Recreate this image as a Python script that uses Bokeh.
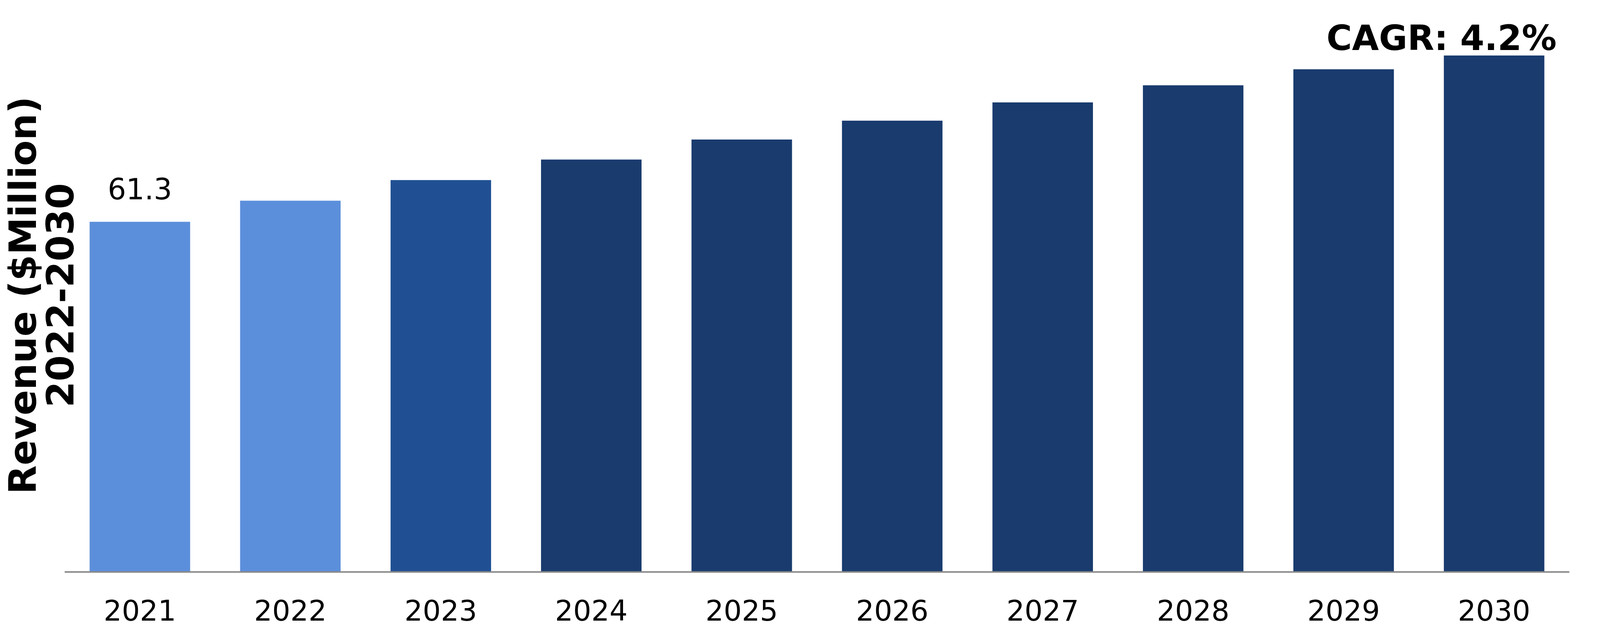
from bokeh.plotting import figure
from bokeh.models import ColumnDataSource, FixedTicker, Range1d
from bokeh.core.properties import value
from bokeh.embed import file_html
from bokeh.resources import INLINE

years = ["2021", "2022", "2023", "2024", "2025", "2026", "2027", "2028", "2029", "2030"]
revenue = [61.3, 65.0, 68.6, 72.2, 75.7, 79.0, 82.2, 85.2, 88.0, 90.4]
bar_colors = ["#5C8FDB", "#5C8FDB", "#205093", "#193B6E", "#193B6E",
              "#193B6E", "#193B6E", "#193B6E", "#193B6E", "#193B6E"]
label_years = ["2021"]
label_values = [61.3]
label_texts = ["61.3"]
cagr_years = ["2030"]
cagr_values = [90.4]
cagr_texts = ["CAGR: 4.2%"]
y_title = "Revenue ($Million)\n2022-2030"

FONT = "DejaVu Sans"

W, H = 4080, 1619
p = figure(x_range=years, width=W, height=H, output_backend="svg",
           toolbar_location=None, min_border_left=159, min_border_right=63,
           min_border_top=47, min_border_bottom=156)
p.y_range = Range1d(0, 1416 / 14.617)
p.x_range.range_padding = 0

src = ColumnDataSource(dict(x=years, top=revenue, color=bar_colors))
p.vbar(x="x", top="top", width=0.668, color="color", line_color=None, source=src)

p.text(x=label_years, y=label_values, text=label_texts, text_align="center",
       text_baseline="middle", y_offset=-85, text_font=value(FONT),
       text_font_size="74px", text_color="#000000")

p.text(x=cagr_years, y=cagr_values, text=cagr_texts, text_align="right",
       text_baseline="middle", x_offset=160, y_offset=-45,
       text_font=value(FONT), text_font_size="89px", text_font_style="bold",
       text_color="#000000")

p.xgrid.grid_line_color = None
p.ygrid.grid_line_color = None
p.outline_line_color = None
p.background_fill_color = "white"
p.border_fill_color = "white"

xa = p.xaxis[0]
xa.axis_line_color = "#898989"
xa.axis_line_width = 4
xa.major_tick_line_color = None
xa.minor_tick_line_color = None
xa.major_tick_out = 0
xa.major_tick_in = 0
xa.major_label_standoff = 70
xa.major_label_text_font = FONT
xa.major_label_text_font_size = "73px"
xa.major_label_text_color = "#000000"

ya = p.yaxis[0]
ya.ticker = FixedTicker(ticks=[])
ya.axis_line_color = None
ya.major_tick_line_color = None
ya.minor_tick_line_color = None
ya.major_tick_out = 0
ya.major_label_standoff = 0
ya.axis_label = y_title
ya.axis_label_text_font = FONT
ya.axis_label_text_font_size = "96px"
ya.axis_label_text_font_style = "bold"
ya.axis_label_text_color = "#000000"
ya.axis_label_text_line_height = 0.85
ya.axis_label_standoff = -45

open("out.html", "w").write(file_html(p, INLINE))
